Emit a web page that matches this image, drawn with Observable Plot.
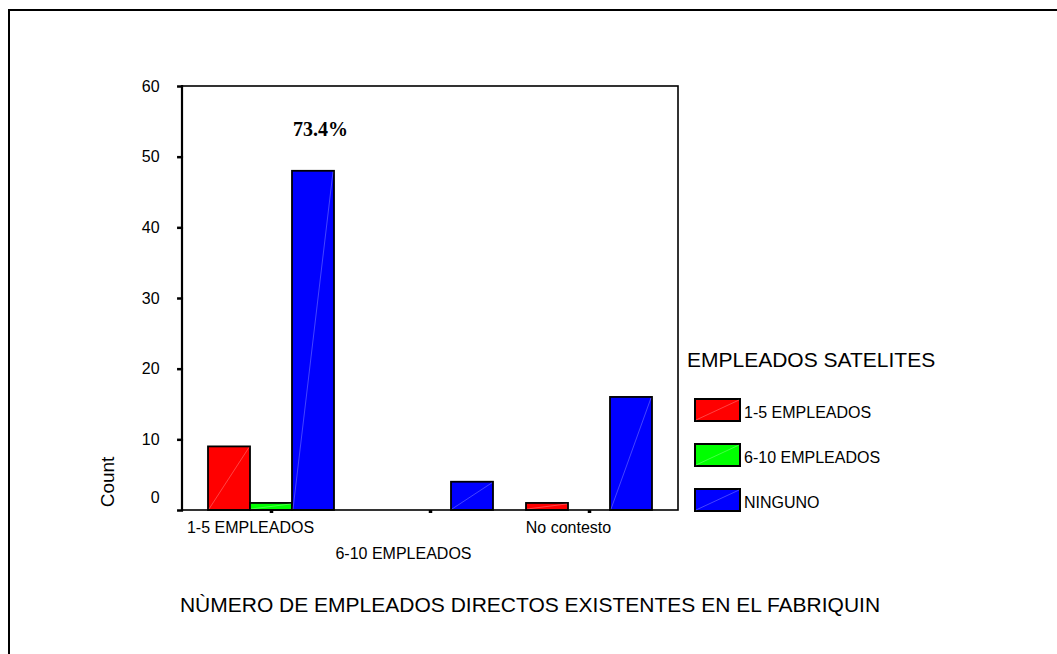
<!DOCTYPE html>
<html>
<head>
<meta charset="utf-8">
<script src="https://cdn.jsdelivr.net/npm/d3@7"></script>
<script src="https://cdn.jsdelivr.net/npm/@observablehq/plot@0.6"></script>
<style>
  html, body { margin: 0; padding: 0; background: #fff; }
  #chart { width: 1057px; height: 654px; overflow: hidden; }
</style>
</head>
<body>
<div id="chart"></div>
<script>
// ---- data ----
const categories = ["1-5 EMPLEADOS", "6-10 EMPLEADOS", "No contesto"];
const series = ["1-5 EMPLEADOS", "6-10 EMPLEADOS", "NINGUNO"];
const values15 = [9, 0, 1];        // EMPLEADOS SATELITES = 1-5 EMPLEADOS
const values610 = [1, 0, 0];       // EMPLEADOS SATELITES = 6-10 EMPLEADOS
const valuesNinguno = [48, 4, 16]; // EMPLEADOS SATELITES = NINGUNO
const seriesColors = ["#ff0000", "#00ff00", "#0000ff"];
const yTicks = [0, 10, 20, 30, 40, 50, 60];
const annotationText = ["73.4%"];
const annotationCategory = ["1-5 EMPLEADOS"];
const annotationSeries = ["NINGUNO"];
const annotationY = [53];
const xTitle = "NÙMERO DE EMPLEADOS DIRECTOS EXISTENTES EN EL FABRIQUIN";
const yTitle = "Count";
const legendTitle = "EMPLEADOS SATELITES";

// ---- table built from arrays ----
const seriesValues = [values15, values610, valuesNinguno];
const rows = [];
categories.forEach((c, i) => series.forEach((s, j) => rows.push({cat: c, ser: s, value: seriesValues[j][i]})));
const notes = annotationText.map((t, i) => ({text: t, cat: annotationCategory[i], ser: annotationSeries[i], y: annotationY[i]}));

const W = 1057, H = 654;
const mL = 182, mR = 379, mT = 86, mB = 144;
const padIn = 0.193, padOut = 0.15;
const step = (W - mL - mR) / (categories.length - padIn + 2 * padOut);
const outerOffset = step * padOut; // distance from frame edge to first facet
const font = "'Liberation Sans', Arial, sans-serif";

const plot = Plot.plot({
  width: W, height: H,
  marginLeft: mL, marginRight: mR, marginTop: mT, marginBottom: mB,
  style: {fontFamily: font, fontSize: "16px", color: "#000", background: "#fff", overflow: "visible"},
  fx: {domain: categories, paddingInner: padIn, paddingOuter: padOut, axis: null, label: null},
  x: {domain: series, padding: 0, axis: null},
  y: {domain: [0, 60], axis: null},
  color: {domain: series, range: seriesColors},
  marks: [
    Plot.barY(rows, {fx: "cat", x: "ser", y: "value", fill: "ser", stroke: "#000", strokeWidth: 1.8, inset: 0}),
    Plot.axisY({ticks: yTicks, tickSize: 6, tickPadding: 18, strokeWidth: 2.5, label: null, fontSize: 16, dx: -outerOffset}),
    Plot.axisFx({anchor: "bottom", tickSize: 3, strokeWidth: 3.5, tickFormat: () => "", label: null}),
    Plot.text(categories.filter((d, i) => i % 2 === 0), {fx: d => d, text: d => d, frameAnchor: "bottom", lineAnchor: "top", dy: 11.5, dx: -21, fontSize: 16}),
    Plot.text(categories.filter((d, i) => i % 2 === 1), {fx: d => d, text: d => d, frameAnchor: "bottom", lineAnchor: "top", dy: 37.5, dx: -27, fontSize: 16}),
    Plot.text(notes, {fx: "cat", x: "ser", y: "y", text: "text", dx: 7, fontSize: 20, fontWeight: "bold", fontFamily: "'Liberation Serif', 'Times New Roman', serif", lineAnchor: "bottom"})
  ]
});
document.getElementById("chart").appendChild(plot);

const svg = d3.select(plot);
const color = plot.scale("color");

// SPSS places the "0" label slightly above its tick
svg.selectAll("g[aria-label='y-axis tick label'] text")
  .filter(function() { return this.textContent === "0"; })
  .attr("y", -8);

// diagonal highlight lines in bars (SPSS style)
svg.selectAll("g[aria-label='bar'] rect").each(function() {
  const r = d3.select(this);
  const x = +r.attr("x"), y = +r.attr("y"), w = +r.attr("width"), h = +r.attr("height");
  if (h > 1) {
    d3.select(this.parentNode).append("line")
      .attr("x1", x + 1).attr("y1", y + h - 1).attr("x2", x + w - 1).attr("y2", y + 1)
      .attr("stroke", "#fff").attr("stroke-opacity", 0.45).attr("stroke-width", 0.6);
  }
});

const g = svg.append("g").attr("text-anchor", "start");

// plot frame (top and right edges + baseline) and y-axis line
g.append("rect").attr("x", mL).attr("y", mT).attr("width", W - mL - mR).attr("height", H - mT - mB)
  .attr("fill", "none").attr("stroke", "#000").attr("stroke-width", 1.6);
g.append("line").attr("x1", mL).attr("x2", mL).attr("y1", mT - 1).attr("y2", H - mB + 1)
  .attr("stroke", "#000").attr("stroke-width", 2.2);

// outer border
g.append("rect").attr("x", 9).attr("y", 10).attr("width", 1200).attr("height", 800)
  .attr("fill", "none").attr("stroke", "#000").attr("stroke-width", 2);

// y title
g.append("text").attr("transform", "translate(114,482) rotate(-90)").attr("text-anchor", "middle")
  .attr("font-size", 19).attr("font-family", font).attr("fill", "#000").text(yTitle);

// x title
g.append("text").attr("x", 530).attr("y", 612).attr("text-anchor", "middle")
  .attr("font-size", 21).attr("font-family", font).attr("fill", "#000").text(xTitle);

// legend
g.append("text").attr("x", 687).attr("y", 367).attr("text-anchor", "start").attr("font-size", 21)
  .attr("font-family", font).attr("fill", "#000").text(legendTitle);
series.forEach((s, i) => {
  const y0 = 399 + i * 45;
  g.append("rect").attr("x", 695).attr("y", y0).attr("width", 45).attr("height", 22)
    .attr("fill", color.apply(s)).attr("stroke", "#000").attr("stroke-width", 2);
  g.append("line").attr("x1", 696).attr("y1", y0 + 21).attr("x2", 739).attr("y2", y0 + 1)
    .attr("stroke", "#fff").attr("stroke-opacity", 0.45).attr("stroke-width", 0.6);
  g.append("text").attr("x", 744).attr("y", y0 + 19).attr("text-anchor", "start").attr("font-size", 16)
    .attr("font-family", font).attr("fill", "#000").text(s);
});
</script>
</body>
</html>
